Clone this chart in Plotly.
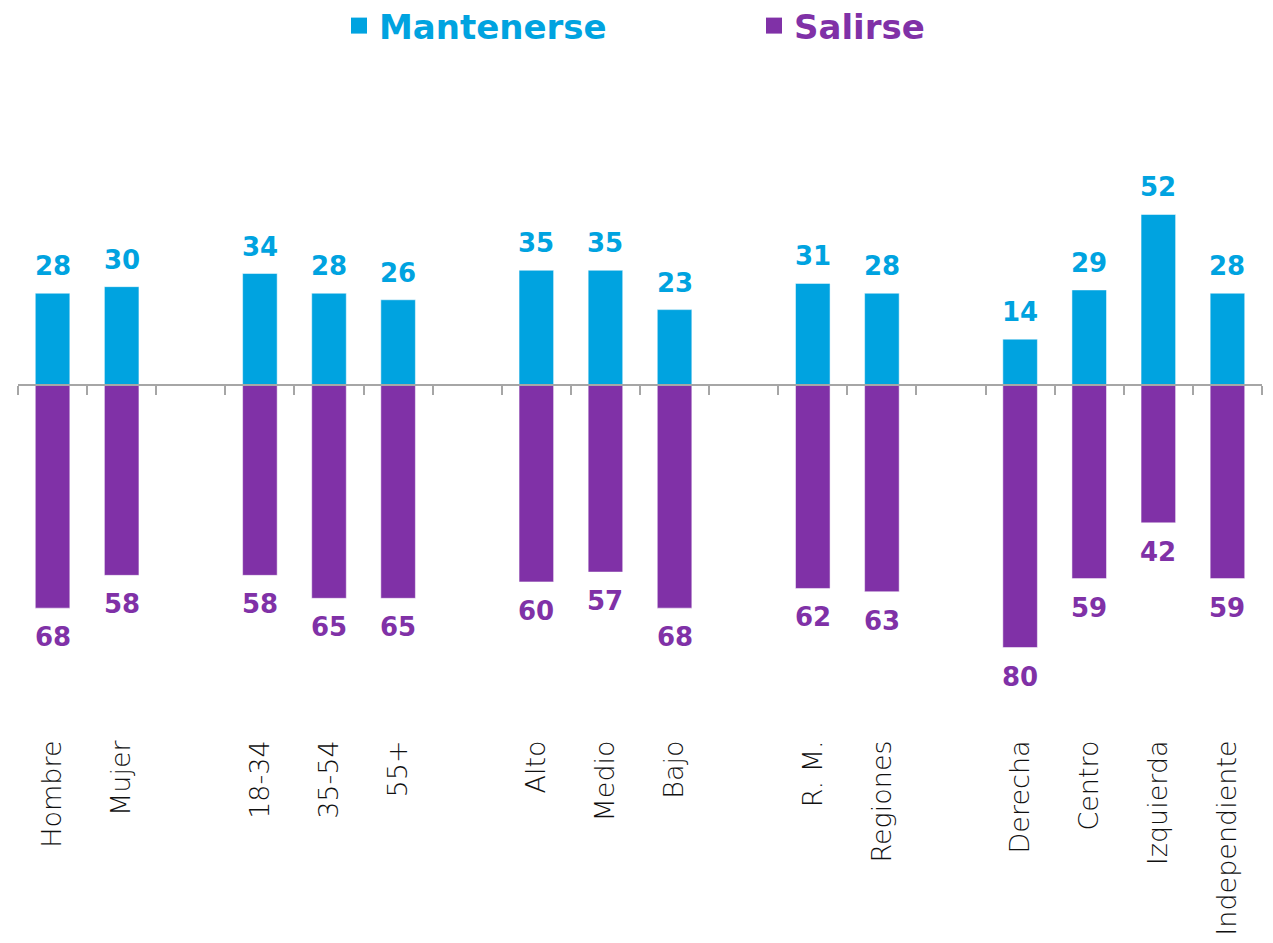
import plotly.graph_objects as go

# ---- data ----
groups = [
    ["Hombre", "Mujer"],
    ["18-34", "35-54", "55+"],
    ["Alto", "Medio", "Bajo"],
    ["R. M.", "Regiones"],
    ["Derecha", "Centro", "Izquierda", "Independiente"],
]
mantenerse = [28, 30, 34, 28, 26, 35, 35, 23, 31, 28, 14, 29, 52, 28]
salirse = [68, 58, 58, 65, 65, 60, 57, 68, 62, 63, 80, 59, 42, 59]

BLUE = "#00A3E0"
PURPLE = "#8031A7"
AXIS = "#A6A6A6"
NUMFONT = "DejaVu Sans"

# positions with a blank slot between groups
categories, xpos = [], []
pos = 0
for gi, g in enumerate(groups):
    for c in g:
        categories.append(c)
        xpos.append(pos)
        pos += 1
    if gi < len(groups) - 1:
        pos += 1
n_slots = pos
xr = [-0.5, n_slots - 0.5]

ymin, ymax = -102.1, 86.9
zero_pos = -ymin / (ymax - ymin)

# page body has an 8px margin: figure is drawn at (8, 8)
W, H = 1265, 935

fig = go.Figure()
fig.add_trace(go.Bar(
    x=xpos, y=mantenerse, width=0.5,
    marker=dict(color=BLUE, line=dict(color="white", width=0.5)),
    showlegend=False, name="Mantenerse"))
fig.add_trace(go.Bar(
    x=xpos, y=[-v for v in salirse], width=0.5,
    marker=dict(color=PURPLE, line=dict(color="white", width=0.5)),
    showlegend=False, name="Salirse"))

annotations = []
for x, v in zip(xpos, mantenerse):
    annotations.append(dict(x=x, y=v, text=str(v), showarrow=False, yanchor="bottom",
                            yshift=10, font=dict(family=NUMFONT, size=26, color=BLUE, weight="bold")))
for x, v in zip(xpos, salirse):
    annotations.append(dict(x=x, y=-v, text=str(v), showarrow=False, yanchor="top",
                            yshift=-12, font=dict(family=NUMFONT, size=26, color=PURPLE, weight="bold")))

# legend entries (two legends so each text takes its series colour)
fig.add_trace(go.Scatter(x=[None], y=[None], mode="markers", name="Mantenerse", legend="legend",
                         marker=dict(symbol="square", size=22, color=BLUE)))
fig.add_trace(go.Scatter(x=[None], y=[None], mode="markers", name="Salirse", legend="legend2",
                         marker=dict(symbol="square", size=22, color=PURPLE)))

# dummy trace for zero-line axis
fig.add_trace(go.Scatter(x=[None], y=[None], xaxis="x2", showlegend=False, hoverinfo="skip"))

fig.update_layout(
    width=W, height=H,
    margin=dict(l=10, r=11, t=92, b=223, autoexpand=False),
    plot_bgcolor="white", paper_bgcolor="white",
    barmode="overlay",
    annotations=annotations,
    xaxis=dict(range=xr, tickvals=xpos, ticktext=categories, tickangle=-90,
               showgrid=False, zeroline=False, showline=False, ticks="",
               ticklabelstandoff=14, automargin=False,
               tickfont=dict(family="DejaVu Sans", size=27, color="#111111", weight=300)),
    xaxis2=dict(overlaying="x", anchor="free", position=zero_pos, side="bottom",
                range=xr, tickvals=[i - 0.5 for i in range(n_slots + 1)],
                showticklabels=False, ticks="outside", ticklen=9, tickwidth=1.5,
                tickcolor=AXIS, showline=True, linecolor=AXIS, linewidth=1.5,
                showgrid=False, zeroline=False, automargin=False),
    yaxis=dict(range=[ymin, ymax], visible=False, showgrid=False, zeroline=False, automargin=False),
    legend=dict(orientation="h", xref="container", yref="container",
                x=331 / W, xanchor="left", y=1 - 18 / H, yanchor="middle",
                font=dict(family=NUMFONT, size=34, color=BLUE, weight="bold"),
                itemsizing="trace", bgcolor="rgba(0,0,0,0)"),
    legend2=dict(orientation="h", xref="container", yref="container",
                 x=746 / W, xanchor="left", y=1 - 18 / H, yanchor="middle",
                 font=dict(family=NUMFONT, size=34, color=PURPLE, weight="bold"),
                 itemsizing="trace", bgcolor="rgba(0,0,0,0)"),
)

fig.write_html("out.html")
